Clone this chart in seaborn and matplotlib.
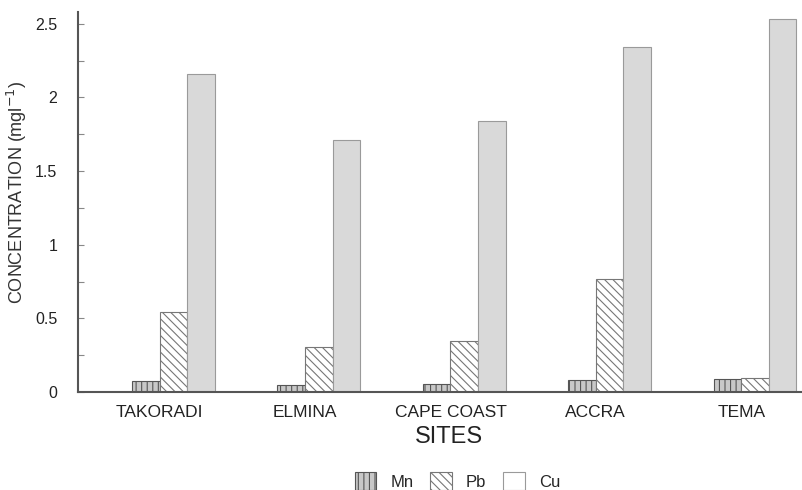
import numpy as np
import pandas as pd
import matplotlib
matplotlib.use("Agg")
import matplotlib.pyplot as plt
import seaborn as sns
from matplotlib.patches import Patch
from matplotlib.ticker import FuncFormatter, MultipleLocator

sites = ["TAKORADI", "ELMINA", "CAPE COAST", "ACCRA", "TEMA"]
metals = ["Mn", "Pb", "Cu"]
mn = [0.075, 0.05, 0.053, 0.082, 0.088]
pb = [0.54, 0.306, 0.346, 0.77, 0.095]
cu = [2.16, 1.71, 1.84, 2.34, 2.53]

df = pd.DataFrame({
    "site": sites * 3,
    "metal": ["Mn"] * 5 + ["Pb"] * 5 + ["Cu"] * 5,
    "conc": mn + pb + cu,
})

sns.set_theme(style="ticks")
plt.rcParams["font.family"] = ["Liberation Sans", "DejaVu Sans"]
plt.rcParams["hatch.linewidth"] = 0.8

fig = plt.figure(figsize=(8.03, 4.90), dpi=100)
ax = fig.add_axes([78 / 803, 1 - 392 / 490, 725 / 803, 380 / 490])

group_w = 0.57
sns.barplot(data=df, x="site", y="conc", hue="metal", order=sites,
            hue_order=metals, width=group_w, ax=ax, legend=False,
            errorbar=None, saturation=1)

styles = {
    "Mn": dict(facecolor="#c8c8c8", edgecolor="#555555", hatch="|||"),
    "Pb": dict(facecolor="white", edgecolor="#777777", hatch="\\\\\\\\"),
    "Cu": dict(facecolor="#d9d9d9", edgecolor="#9a9a9a", hatch=None),
}
for cont, m in zip(ax.containers, metals):
    for p in cont.patches:
        p.set_facecolor(styles[m]["facecolor"])
        p.set_edgecolor(styles[m]["edgecolor"])
        p.set_hatch(styles[m]["hatch"])
        p.set_linewidth(0.8)

bw = group_w / 3
ax.set_xlim(-0.657, 4.33)
ax.set_ylim(0, 2.58)
ax.set_xticks(np.arange(len(sites)) - bw / 2)
ax.set_xticklabels(sites, fontsize=12.5, color="#222222")
ax.tick_params(axis="x", length=0, pad=9.5)
ax.yaxis.set_major_locator(MultipleLocator(0.5))
ax.yaxis.set_minor_locator(MultipleLocator(0.25))
ax.yaxis.set_major_formatter(FuncFormatter(lambda v, p: f"{v:g}"))
ax.tick_params(axis="y", which="both", direction="in", length=4, width=0.8,
               color="#888888", labelsize=11.5, pad=15, labelcolor="#222222")

ax.set_xlabel("SITES", fontsize=17, color="#222222", va="center")
ax.xaxis.set_label_coords((449 - 78) / 725, (392 - 437) / 380)
ax.set_ylabel("CONCENTRATION (mgl$^{-1}$)", fontsize=13, color="#333333")
ax.yaxis.set_label_coords(-0.068, 0.524)

sns.despine(ax=ax)
for s in ["left", "bottom"]:
    ax.spines[s].set_color("#555555")
    ax.spines[s].set_linewidth(1.5)

handles = [Patch(facecolor=styles[m]["facecolor"] if m != "Cu" else "white",
                 edgecolor=styles[m]["edgecolor"],
                 hatch=styles[m]["hatch"], linewidth=0.8, label=m) for m in metals]
fig.legend(handles=handles, loc="center", bbox_to_anchor=(457.5 / 803, 1 - 481 / 490),
           ncol=3, frameon=False, fontsize=12, handlelength=1.3, handleheight=1.2,
           columnspacing=1.0, handletextpad=0.85, borderpad=0, borderaxespad=0)

fig.savefig("out.png", dpi=100)
